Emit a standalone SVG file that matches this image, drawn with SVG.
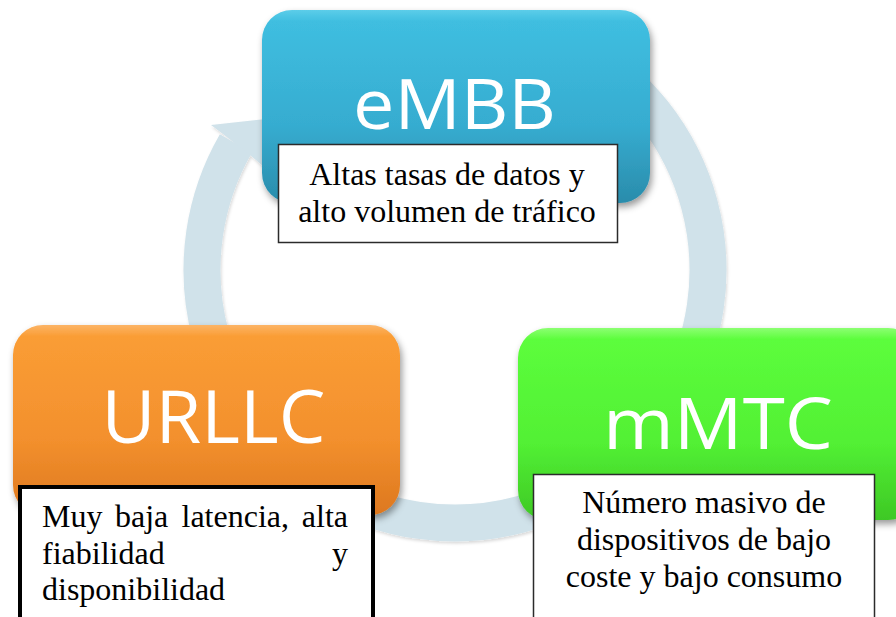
<svg xmlns="http://www.w3.org/2000/svg" width="896" height="617" viewBox="0 0 896 617">
  <defs>
    <linearGradient id="gBlue" x1="0" y1="0" x2="0" y2="1">
      <stop offset="0" stop-color="#5ccde9"/>
      <stop offset="0.06" stop-color="#3fbee0"/>
      <stop offset="0.6" stop-color="#36acd0"/>
      <stop offset="1" stop-color="#2a8cab"/>
    </linearGradient>
    <linearGradient id="gOrange" x1="0" y1="0" x2="0" y2="1">
      <stop offset="0" stop-color="#fcb466"/>
      <stop offset="0.06" stop-color="#fa9d35"/>
      <stop offset="0.6" stop-color="#f3902d"/>
      <stop offset="1" stop-color="#dd781f"/>
    </linearGradient>
    <linearGradient id="gGreen" x1="0" y1="0" x2="0" y2="1">
      <stop offset="0" stop-color="#8cff72"/>
      <stop offset="0.06" stop-color="#5cfd3c"/>
      <stop offset="0.6" stop-color="#52f034"/>
      <stop offset="1" stop-color="#3ec825"/>
    </linearGradient>
    <filter id="shadow" x="-10%" y="-10%" width="125%" height="130%">
      <feDropShadow dx="2" dy="4" stdDeviation="3.5" flood-color="#000" flood-opacity="0.4"/>
    </filter>
    <filter id="ringShadow" x="-10%" y="-10%" width="120%" height="120%">
      <feDropShadow dx="1" dy="2" stdDeviation="1.5" flood-color="#000" flood-opacity="0.15"/>
    </filter>
  </defs>
  <style>
    .ring { fill: none; stroke: #d0e2ea; stroke-width: 37; }
    .head { fill: #d0e2ea; stroke: none; }
    .label { font-family: "Open Sans", "Liberation Sans", sans-serif; fill: #ffffff; text-anchor: middle; }
    .desc { font-family: "Liberation Serif", "Times New Roman", serif; font-size: 32px; fill: #000000; }
    .mid { text-anchor: middle; }
    .tbox { fill: #ffffff; stroke: #2b2b2b; stroke-width: 1.5; }
    .tboxBold { fill: #ffffff; stroke: #000000; stroke-width: 4; }
  </style>
  <rect x="0" y="0" width="896" height="617" fill="#ffffff"/>

  <g id="connectors" filter="url(#ringShadow)">
    <path class="ring" d="M 581.5 50.9 A 253 253 0 1 1 235.9 143.5"/>
    <polygon class="head" points="211,125 266,119 270,172 250,155 223,134"/>
  </g>

  <g id="eMBB">
    <rect x="262" y="10" width="388" height="193" rx="30" ry="30" fill="url(#gBlue)" filter="url(#shadow)"/>
    <text class="label" x="454.5" y="129" font-size="69" textLength="203" lengthAdjust="spacingAndGlyphs">eMBB</text>
    <rect class="tbox" x="278.5" y="144.5" width="339" height="98"/>
    <text class="desc mid" x="447" y="185">Altas tasas de datos y</text>
    <text class="desc mid" x="447" y="222">alto volumen de tráfico</text>
  </g>

  <g id="URLLC">
    <rect x="13" y="325" width="387" height="190" rx="30" ry="30" fill="url(#gOrange)" filter="url(#shadow)"/>
    <text class="label" x="213.5" y="443" font-size="74" textLength="224" lengthAdjust="spacingAndGlyphs">URLLC</text>
    <rect class="tboxBold" x="20" y="487" width="353" height="150"/>
    <text class="desc" y="527"><tspan x="42">Muy</tspan><tspan x="115">baja</tspan><tspan x="181.5">latencia,</tspan><tspan x="348" text-anchor="end">alta</tspan></text>
    <text class="desc" y="564"><tspan x="42">fiabilidad</tspan><tspan x="348" text-anchor="end">y</tspan></text>
    <text class="desc" x="42" y="600">disponibilidad</text>
  </g>

  <g id="mMTC">
    <rect x="518" y="328" width="400" height="192" rx="30" ry="30" fill="url(#gGreen)" filter="url(#shadow)"/>
    <text class="label" x="718" y="449" font-size="72" textLength="230" lengthAdjust="spacingAndGlyphs">mMTC</text>
    <rect class="tbox" x="533.5" y="474.5" width="341" height="160"/>
    <text class="desc mid" x="704" y="513">Número masivo de</text>
    <text class="desc mid" x="704" y="550">dispositivos de bajo</text>
    <text class="desc mid" x="704" y="587">coste y bajo consumo</text>
  </g>
</svg>
